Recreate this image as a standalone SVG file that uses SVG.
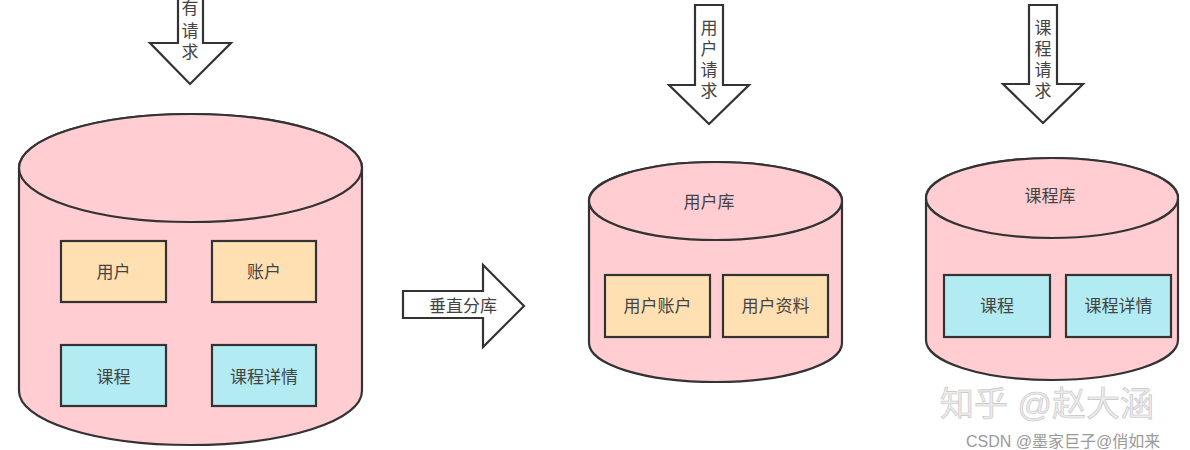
<svg xmlns="http://www.w3.org/2000/svg" width="1190" height="450" viewBox="0 0 1190 450">
<style>
.cyl{fill:#FFCDD2;stroke:#333;stroke-width:2.2}
.arr{fill:#fff;stroke:#333;stroke-width:2.2;stroke-linejoin:miter}
.box{stroke:#333;stroke-width:2.2}
.org{fill:#FFE0B2}
.cyan{fill:#B2EBF2}
text{font-family:"Liberation Sans","Noto Sans CJK SC",sans-serif;font-size:17px;fill:#444;text-anchor:middle;dominant-baseline:central}
.vt{font-size:17px}
.wm{font-size:34px;fill:#ececec;stroke:#c4c4c4;stroke-width:0.6;text-anchor:start}
.wm2{font-size:16px;fill:#9a9a9a;text-anchor:start}
</style>
<rect width="1190" height="450" fill="#fff"/>

<g id="connectors">
  <g id="arrow-all">
    <path class="arr" d="M178,-5 L203,-5 L203,43 L231,43 L190,84 L150,43 L178,43 Z"/>
    <text class="vt" x="190" y="8">有</text>
    <text class="vt" x="190" y="31">请</text>
    <text class="vt" x="190" y="52">求</text>
  </g>
  <g id="arrow-split">
    <path class="arr" d="M403,291 L483,291 L483,265 L524,306 L483,347 L483,318 L403,318 Z"/>
    <text x="463" y="306">垂直分库</text>
  </g>
  <g id="arrow-user">
    <path class="arr" d="M695,5 L723,5 L723,85 L749,85 L709,124 L669,85 L695,85 Z"/>
    <text class="vt" x="709" y="28">用</text>
    <text class="vt" x="709" y="49">户</text>
    <text class="vt" x="709" y="70">请</text>
    <text class="vt" x="709" y="91">求</text>
  </g>
  <g id="arrow-course">
    <path class="arr" d="M1029,5 L1057,5 L1057,84 L1083,84 L1043,123 L1003,84 L1029,84 Z"/>
    <text class="vt" x="1043" y="28">课</text>
    <text class="vt" x="1043" y="49">程</text>
    <text class="vt" x="1043" y="70">请</text>
    <text class="vt" x="1043" y="91">求</text>
  </g>
</g>

<g id="db-all">
  <path class="cyl" d="M19,168 A171.5,54 0 0 1 362,168 L362,391 A171.5,54 0 0 1 19,391 Z"/>
  <ellipse class="cyl" cx="190.5" cy="168" rx="171.5" ry="54"/>
</g>
<g id="box-user"><rect class="box org" x="61" y="241" width="105" height="61"/><text x="113.5" y="272">用户</text></g>
<g id="box-account"><rect class="box org" x="212" y="241" width="104" height="61"/><text x="264" y="272">账户</text></g>
<g id="box-course"><rect class="box cyan" x="61" y="345" width="105" height="61"/><text x="113.5" y="377">课程</text></g>
<g id="box-course-detail"><rect class="box cyan" x="212" y="345" width="104" height="61"/><text x="264" y="377">课程详情</text></g>

<g id="db-user">
  <path class="cyl" d="M589,201 A126.5,39 0 0 1 842,201 L842,343 A126.5,39 0 0 1 589,343 Z"/>
  <ellipse class="cyl" cx="715.5" cy="201" rx="126.5" ry="39"/>
  <text x="709" y="202">用户库</text>
</g>
<g id="box-user-account"><rect class="box org" x="605" y="275" width="105" height="62"/><text x="657.5" y="306">用户账户</text></g>
<g id="box-user-profile"><rect class="box org" x="723" y="275" width="105" height="62"/><text x="775.5" y="306">用户资料</text></g>

<g id="db-course">
  <path class="cyl" d="M926,198 A126,40 0 0 1 1178,198 L1178,340 A126,40 0 0 1 926,340 Z"/>
  <ellipse class="cyl" cx="1052" cy="198" rx="126" ry="40"/>
  <text x="1050" y="196">课程库</text>
</g>
<g id="box-course2"><rect class="box cyan" x="944" y="275" width="106" height="62"/><text x="997" y="306">课程</text></g>
<g id="box-course-detail2"><rect class="box cyan" x="1066" y="275" width="105" height="62"/><text x="1118.5" y="306">课程详情</text></g>

<g id="watermark">
  <text class="wm" x="940" y="404">知乎 @赵大涵</text>
  <text class="wm2" x="966" y="441">CSDN @墨家巨子@俏如来</text>
</g>
</svg>
